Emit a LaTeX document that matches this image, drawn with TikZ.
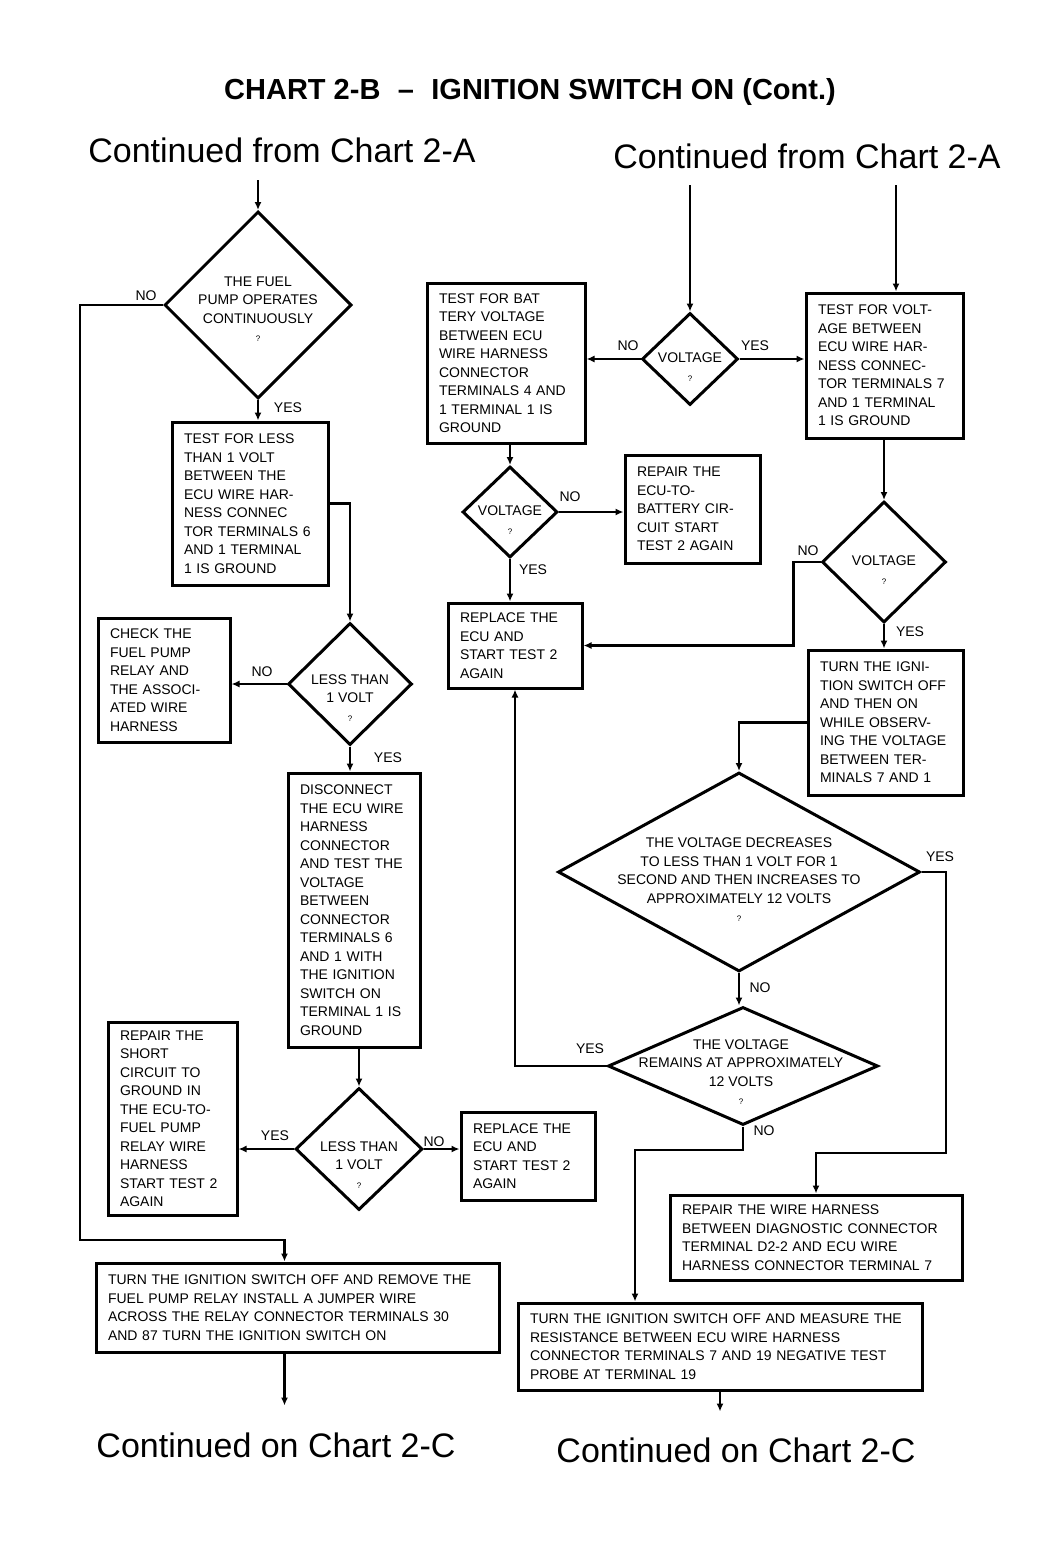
\documentclass[tikz,border=0pt]{standalone}
\usepackage{fontspec}
\setmainfont{Liberation Sans}
\usetikzlibrary{shapes.geometric,arrows.meta}
\newcommand{\boxfont}{\fontsize{14}{18.5}\selectfont}
\newcommand{\qm}{{\footnotesize ?}}

\begin{document}
\begin{tikzpicture}[x=1pt, y=-1pt,
		box/.style={draw, line width=3pt, inner sep=0pt, align=left, font=\boxfont},
		dia/.style={draw, diamond, line width=3pt, inner sep=0pt},
		dtext/.style={align=center, font=\boxfont},
		lbl/.style={font=\boxfont},
		arr/.style={line width=2.5pt, -{Latex[length=8pt,width=7pt]}}]
		\useasboundingbox (0,0) rectangle (1050,1544);
		\node[font=\fontsize{29}{34}\selectfont\bfseries] (title) at (530,92) {CHART 2-B\hspace{0.6em}--\hspace{0.6em}IGNITION SWITCH ON (Cont.)};
		\node[font=\fontsize{34}{40}\selectfont] (cfl) at (282,150) {Continued from Chart 2-A};
		\node[font=\fontsize{34}{40}\selectfont] (cfr) at (807,156) {Continued from Chart 2-A};
		\node[font=\fontsize{34}{40}\selectfont] (col) at (276,1445) {Continued on Chart 2-C};
		\node[font=\fontsize{34}{40}\selectfont] (cor) at (736,1450) {Continued on Chart 2-C};
		% left column
		\node[dia, minimum width=187pt, minimum height=187pt] (d1) at (258,305) {};
		\node[dtext] (d1t) at (258,309) {THE FUEL\\PUMP OPERATES\\CONTINUOUSLY\\\qm};
		\node[box, minimum width=156pt, minimum height=163pt, text width=132pt] (b1) at (250,503.5) {TEST FOR LESS\\THAN 1 VOLT\\BETWEEN THE\\ECU WIRE HAR-\\NESS CONNEC\\TOR TERMINALS 6\\AND 1  TERMINAL\\1 IS GROUND};
		\node[dia, minimum width=124pt, minimum height=122pt] (d2) at (350,684) {};
		\node[dtext] (d2t) at (350,698) {LESS THAN\\1 VOLT\\\qm};
		\node[box, minimum width=132pt, minimum height=124pt, text width=108pt] (b2) at (164,680) {CHECK THE\\FUEL PUMP\\RELAY AND\\THE ASSOCI-\\ATED WIRE\\HARNESS};
		\node[box, minimum width=132pt, minimum height=274pt, text width=108pt] (b3) at (354,910) {DISCONNECT\\THE ECU WIRE\\HARNESS\\CONNECTOR\\AND TEST THE\\VOLTAGE\\BETWEEN\\CONNECTOR\\TERMINALS 6\\AND 1 WITH\\THE IGNITION\\SWITCH ON\\TERMINAL 1 IS\\GROUND};
		\node[dia, minimum width=127pt, minimum height=122pt] (d3) at (359,1149) {};
		\node[dtext] (d3t) at (359,1165) {LESS THAN\\1 VOLT\\\qm};
		\node[box, minimum width=129pt, minimum height=193pt, text width=105pt] (b4) at (172.5,1118.5) {REPAIR THE\\SHORT\\CIRCUIT TO\\GROUND IN\\THE ECU-TO-\\FUEL PUMP\\RELAY WIRE\\HARNESS\\START TEST 2\\AGAIN};
		\node[box, minimum width=134pt, minimum height=88pt, text width=110pt] (b5) at (528,1156) {REPLACE THE\\ECU AND\\START TEST 2\\AGAIN};
		\node[box, minimum width=403pt, minimum height=89pt, text width=379pt] (b6) at (297.5,1307.5) {TURN THE IGNITION SWITCH OFF AND REMOVE THE\\FUEL PUMP RELAY  INSTALL A JUMPER WIRE\\ACROSS THE RELAY CONNECTOR TERMINALS 30\\AND 87  TURN THE IGNITION SWITCH ON};
		% right part
		\node[dia, minimum width=96pt, minimum height=92pt] (d4) at (690,359) {};
		\node[dtext] (d4t) at (690,367) {VOLTAGE\\\qm};
		\node[box, minimum width=158pt, minimum height=160pt, text width=134pt] (b8) at (506,363) {TEST FOR BAT\\TERY VOLTAGE\\BETWEEN ECU\\WIRE HARNESS\\CONNECTOR\\TERMINALS 4 AND\\1  TERMINAL 1 IS\\GROUND};
		\node[box, minimum width=157pt, minimum height=145pt, text width=133pt] (b7) at (884.5,365.5) {TEST FOR VOLT-\\AGE BETWEEN\\ECU WIRE HAR-\\NESS CONNEC-\\TOR TERMINALS 7\\AND 1  TERMINAL\\1 IS GROUND};
		\node[dia, minimum width=95pt, minimum height=91pt] (d5) at (510,512) {};
		\node[dtext] (d5t) at (510,520) {VOLTAGE\\\qm};
		\node[box, minimum width=135pt, minimum height=108pt, text width=111pt] (b9) at (692.5,509) {REPAIR THE\\ECU-TO-\\BATTERY CIR-\\CUIT  START\\TEST 2 AGAIN};
		\node[box, minimum width=134pt, minimum height=85pt, text width=110pt] (b10) at (515,645.5) {REPLACE THE\\ECU AND\\START TEST 2\\AGAIN};
		\node[dia, minimum width=124pt, minimum height=121pt] (d6) at (884,562) {};
		\node[dtext] (d6t) at (884,570) {VOLTAGE\\\qm};
		\node[box, minimum width=155pt, minimum height=145pt, text width=131pt] (b11) at (885.5,722.5) {TURN THE IGNI-\\TION SWITCH OFF\\AND THEN ON\\WHILE OBSERV-\\ING THE VOLTAGE\\BETWEEN TER-\\MINALS 7 AND 1};
		\node[dia, minimum width=362pt, minimum height=199pt] (d7) at (739,872) {};
		\node[dtext] (d7t) at (739,880) {THE VOLTAGE DECREASES\\TO LESS THAN 1 VOLT FOR 1\\SECOND AND THEN INCREASES TO\\APPROXIMATELY 12 VOLTS\\\qm};
		\node[dia, minimum width=270pt, minimum height=118pt] (d8) at (743,1066) {};
		\node[dtext] (d8t) at (741,1072) {THE VOLTAGE\\REMAINS AT APPROXIMATELY\\12 VOLTS\\\qm};
		\node[box, minimum width=292pt, minimum height=85pt, text width=268pt] (b12) at (816,1237.5) {REPAIR THE WIRE HARNESS\\BETWEEN DIAGNOSTIC CONNECTOR\\TERMINAL D2-2 AND ECU WIRE\\HARNESS CONNECTOR TERMINAL 7};
		\node[box, minimum width=404pt, minimum height=87pt, text width=380pt] (b13) at (720,1346.5) {TURN THE IGNITION SWITCH OFF AND MEASURE THE\\RESISTANCE BETWEEN ECU WIRE HARNESS\\CONNECTOR TERMINALS 7 AND 19  NEGATIVE TEST\\PROBE AT TERMINAL 19};
		% yes / no
		\node[lbl] (n1) at (146,296) {NO};
		\node[lbl] (y1) at (288,408) {YES};
		\node[lbl] (n2) at (262,672) {NO};
		\node[lbl] (y2) at (388,758) {YES};
		\node[lbl] (y3) at (275,1136) {YES};
		\node[lbl] (n3) at (434,1142) {NO};
		\node[lbl] (n4) at (628,346) {NO};
		\node[lbl] (y4) at (755,346) {YES};
		\node[lbl] (n5) at (570,497) {NO};
		\node[lbl] (y5) at (533,570) {YES};
		\node[lbl] (n6) at (808,551) {NO};
		\node[lbl] (y6) at (910,632) {YES};
		\node[lbl] (y7) at (940,857) {YES};
		\node[lbl] (n7) at (760,988) {NO};
		\node[lbl] (y8) at (590,1049) {YES};
		\node[lbl] (n8) at (764,1131) {NO};
		% connectors
		\coordinate (tl) at (258,180);
		\coordinate (tm) at (690,185);
		\coordinate (tr) at (896,185);
		\coordinate (nol) at (80,1240);
		\coordinate (yr) at (946,1153);
		\coordinate (nr) at (635,1150);
		\draw[arr] (tl) -- (d1.north);
		\draw[arr] (d1.west) -| (nol) -| ([xshift=-13pt]b6.north);
		\draw[arr] (d1.south) -- (d1.south |- b1.north);
		\draw[arr] (b1.east) -| (d2.north);
		\draw[arr] (d2.west) -- (d2.west -| b2.east);
		\draw[arr] (d2.south) -- (d2.south |- b3.north);
		\draw[arr] (b3.south -| d3.north) -- (d3.north);
		\draw[arr] (d3.west) -- (d3.west -| b4.east);
		\draw[arr] (d3.east) -- (d3.east -| b5.west);
		\draw[arr] ([xshift=-13pt]b6.south) -- ++(0,52);
		\draw[arr] (tm) -- (d4.north);
		\draw[arr] (tr) -- (tr |- b7.north);
		\draw[arr] (d4.west) -- (d4.west -| b8.east);
		\draw[arr] (d4.east) -- (d4.east -| b7.west);
		\draw[arr] (b8.south -| d5.north) -- (d5.north);
		\draw[arr] (d5.east) -- (d5.east -| b9.west);
		\draw[arr] (d5.south) -- (d5.south |- b10.north);
		\draw[arr] (b7.south -| d6.north) -- (d6.north);
		\draw[arr] (d6.west) -- ++(-27,0) |- (b10.east);
		\draw[arr] (d6.south) -- (d6.south |- b11.north);
		\draw[arr] (b11.west) -| (d7.north);
		\draw[arr] (d7.south) -- (d7.south |- d8.north);
		\draw[arr] (d7.east) -| (yr) -| (b12.north);
		\draw[arr] (d8.west) -| (b10.south);
		\draw[arr] (d8.south) |- (nr) -- (nr |- b13.north);
		\draw[arr] (b13.south) -- ++(0,20);
	\end{tikzpicture}
\end{document}
